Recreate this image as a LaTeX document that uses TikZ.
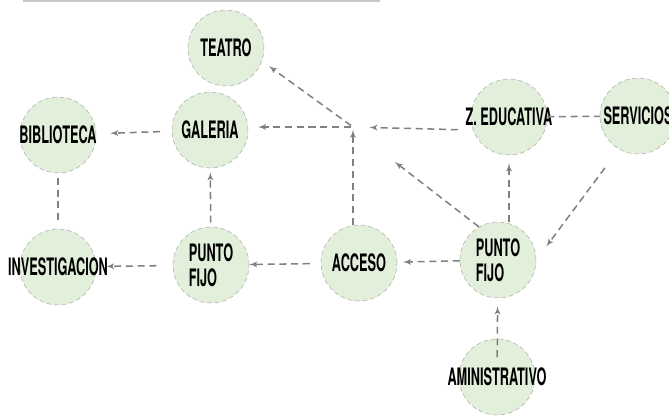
\documentclass[tikz,border=0pt]{standalone}
\usepackage{fontspec}
\newfontfamily\agency[FakeStretch=0.53]{TeX Gyre Heros}
\usetikzlibrary{arrows,positioning}
\definecolor{zonegreen}{RGB}{226,239,218}
\definecolor{linkgray}{RGB}{128,128,128}
\definecolor{rimgray}{RGB}{165,165,165}

\begin{document}
\begin{tikzpicture}[x=0.03cm, y=-0.03cm, >=latex',
    zone/.style={draw=rimgray, dash pattern=on 4pt off 2.5pt, fill=zonegreen, circle, minimum size=2.28cm, inner sep=0pt, align=left, font=\agency\bfseries\fontsize{20.5}{21.3}\selectfont},
    link/.style={color=linkgray, line width=1.3pt, dash pattern=on 6pt off 4pt}]
    \useasboundingbox (0,0) rectangle (669,416);
    \draw[black!22, line width=1pt] (23,1) -- (380,1);

    \node[zone] (teatro) at (226,48) {TEATRO};
    \node[zone] (galeria) at (210,130) {GALERIA};
    \node[zone] (biblioteca) at (58,135) {\makebox[0pt]{BIBLIOTECA}};
    \node[zone] (educativa) at (509,117) {\makebox[0pt]{Z. EDUCATIVA}};
    \node[zone] (servicios) at (638,116) {\makebox[0pt]{SERVICIOS}};
    \node[zone] (investigacion) at (58,267) {\makebox[0pt]{INVESTIGACION}};
    \node[zone] (fijo_left) at (211,265) {PUNTO\\FIJO};
    \node[zone] (acceso) at (359,263) {ACCESO};
    \node[zone] (fijo_right) at (498,260) {PUNTO\\FIJO};
    \node[zone] (administrativo) at (497,377) {\makebox[0pt]{AMINISTRATIVO}};

    \coordinate (hub) at (353,127);
    \coordinate (open_end) at (395,162);

    \draw[link, ->, shorten <=10pt, shorten >=12pt] (galeria) -- (biblioteca);
    \draw[link, shorten <=4pt, shorten >=5pt] (biblioteca) -- (investigacion);
    \draw[link, ->, shorten <=3.5pt, shorten >=3.5pt] (fijo_left) -- (galeria);
    \draw[link, ->, shorten <=14pt, shorten >=8.5pt] (fijo_left) -- (investigacion);
    \draw[link, ->, shorten <=9.4pt] (acceso) -- (fijo_left);
    \draw[link, ->, shorten >=5pt] (fijo_right) -- (acceso);
    \draw[link, ->, shorten >=2.5pt] (hub |- acceso.north) -- (hub);
    \draw[link, ->, shorten <=2pt, shorten >=8.5pt] (hub) -- (hub -| galeria.east);
    \draw[link, ->, shorten <=2pt, shorten >=7.5pt] (hub) -- (teatro.-20);
    \draw[link, ->, shorten <=13pt, shorten >=14pt] (educativa.200) -- (hub);
    \draw[link] (educativa) -- (servicios);
    \draw[link, ->, shorten >=7pt] (fijo_right.north -| educativa) -- (educativa.south -| educativa);
    \draw[link, ->] (fijo_right.120) -- (open_end);
    \draw[link, ->, shorten <=20pt, shorten >=14.5pt] (servicios.240) -- (fijo_right.east);
    \draw[link, ->, shorten <=17pt, shorten >=7pt] (administrativo.center) -- (fijo_right);
\end{tikzpicture}
\end{document}
